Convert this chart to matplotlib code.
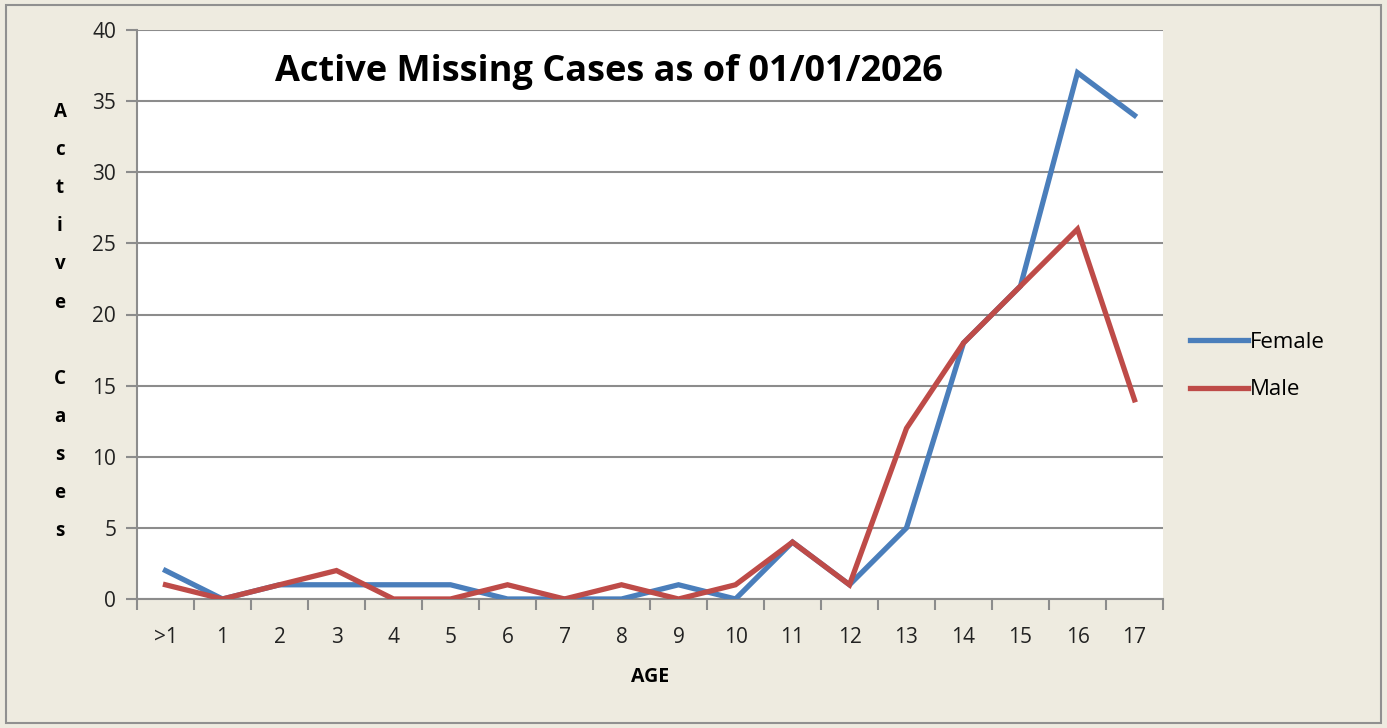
import matplotlib.pyplot as plt
from matplotlib.patches import Rectangle

ages = ['>1', '1', '2', '3', '4', '5', '6', '7', '8', '9', '10', '11', '12', '13', '14', '15', '16', '17']
female = [2, 0, 1, 1, 1, 1, 0, 0, 0, 1, 0, 4, 1, 5, 18, 22, 37, 34]
male = [1, 0, 1, 2, 0, 0, 1, 0, 1, 0, 1, 4, 1, 12, 18, 22, 26, 14]
yticks = [0, 5, 10, 15, 20, 25, 30, 35, 40]

plt.rcParams['font.family'] = ['Open Sans', 'DejaVu Sans']
bg = '#eeebe0'
grey = '#8c8c8c'

fig = plt.figure(figsize=(13.87, 7.28), dpi=100, facecolor=bg)
fig.patches.append(Rectangle((0.004, 0.007), 0.992, 0.986, transform=fig.transFigure,
                             fill=False, edgecolor='#909090', linewidth=1.5))
ax = fig.add_axes([137 / 1387, 1 - 599 / 728, (1163 - 137) / 1387, (599 - 30) / 728])
ax.set_facecolor('white')

x = list(range(len(ages)))
ax.plot(x, female, color='#4a7ebb', linewidth=3.8, label='Female', solid_joinstyle='miter', zorder=3)
ax.plot(x, male, color='#be4b48', linewidth=3.8, label='Male', solid_joinstyle='miter', zorder=4)

ax.set_xlim(-0.5, len(ages) - 0.5)
ax.set_ylim(0, 40)
ax.set_yticks(yticks)
ax.set_yticklabels([str(v) for v in yticks], fontsize=15, color='#222222')
ax.set_xticks(x)
ax.set_xticklabels(ages, fontsize=15, color='#222222')
ax.set_xticks([i - 0.5 for i in range(len(ages) + 1)], minor=True)
ax.tick_params(axis='x', which='major', length=0, pad=20)
ax.tick_params(axis='x', which='minor', length=8, width=1.5, color=grey)
ax.tick_params(axis='y', which='major', length=8, width=1.5, color=grey, pad=7)
ax.yaxis.grid(True, color=grey, linewidth=1.5)
ax.set_axisbelow(True)
for s in ['top', 'right']:
    ax.spines[s].set_visible(False)
for s in ['left', 'bottom']:
    ax.spines[s].set_color(grey)
    ax.spines[s].set_linewidth(1.5)

ax.set_xlabel('AGE', fontsize=14, fontweight='bold', labelpad=14)

label = 'Active Cases'
for i, ch in enumerate(label):
    fig.text(60 / 1387, 1 - (112 + 38.1 * i) / 728, ch, ha='center', va='center',
             fontsize=13.5, fontweight='bold')

fig.text(609 / 1387, 1 - 72 / 728, 'Active Missing Cases as of 01/01/2026',
         ha='center', va='center', fontsize=26, fontweight='bold')

ax.legend(loc='center left', bbox_to_anchor=(1170 / 1387, 1 - 366 / 728),
          bbox_transform=fig.transFigure, frameon=False, fontsize=16,
          handlelength=2.6, handletextpad=0.1, labelspacing=1.2)

fig.savefig('out.png', dpi=100, facecolor=bg)
